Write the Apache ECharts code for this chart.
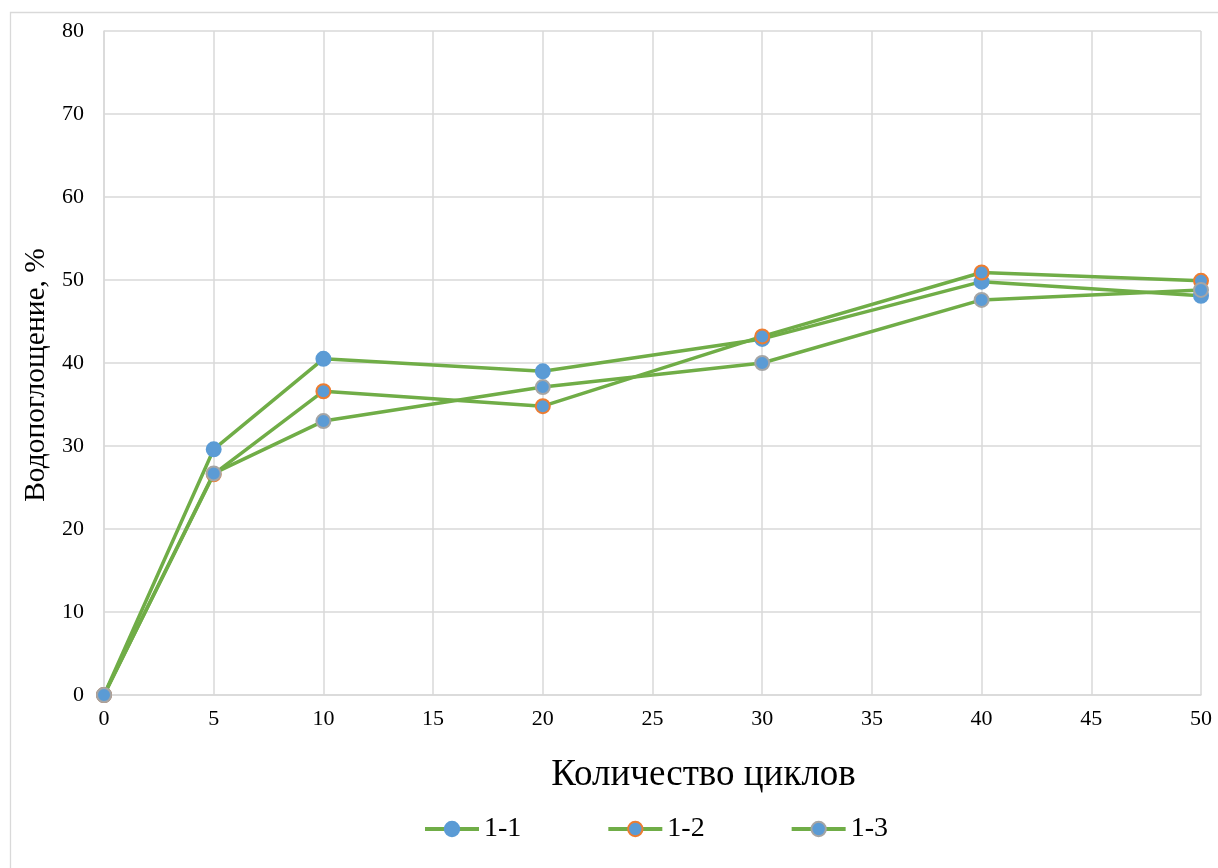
<!DOCTYPE html>
<html>
<head>
<meta charset="utf-8">
<script src="https://cdn.jsdelivr.net/npm/echarts@6/dist/echarts.min.js"></script>
<style>
  html, body { margin: 0; padding: 0; background: #fff; }
  #chart { width: 1218px; height: 868px; }
</style>
</head>
<body>
<div id="chart"></div>
<script>
// Number of freeze–thaw cycles
const cycles = [0, 5, 10, 20, 30, 40, 50];
// Water absorption, % for each sample
const s11 = [0, 29.6, 40.5, 39.0, 42.9, 49.8, 48.1];
const s12 = [0, 26.6, 36.6, 34.8, 43.2, 50.9, 49.9];
const s13 = [0, 26.7, 33.0, 37.1, 40.0, 47.6, 48.8];
const seriesNames = ['1-1', '1-2', '1-3'];

const FONT = '"Liberation Serif", "Times New Roman", serif';
const LINE = '#70AD47';
const FILL = '#5B9BD5';
const borders = ['#5B9BD5', '#ED7D31', '#A5A5A5'];

function pairs(ys) { return cycles.map((c, i) => [c, ys[i]]); }

const chart = echarts.init(document.getElementById('chart'), null, { renderer: 'canvas' });
chart.setOption({
  backgroundColor: '#fff',
  animation: false,
  graphic: [{
    type: 'rect',
    left: 8, top: 10,
    shape: { width: 1300, height: 1000 },
    style: { fill: 'none', stroke: '#D9D9D9', lineWidth: 1.3 },
    silent: true, z: -1
  }],
  grid: { left: 104, right: 17, top: 31, bottom: 173 },
  legend: {
    left: 418, top: 810,
    itemWidth: 54, itemHeight: 18, itemGap: 85,
    lineStyle: { width: 4 },
    textStyle: { fontFamily: FONT, fontSize: 28, color: '#000' },
    data: seriesNames
  },
  xAxis: {
    type: 'value', min: 0, max: 50, interval: 5,
    name: 'Количество циклов', nameLocation: 'middle', nameGap: 62,
    nameTextStyle: { fontFamily: FONT, fontSize: 37, color: '#000', padding: [0, 0, 0, 102] },
    axisLine: { show: true, lineStyle: { color: '#D9D9D9', width: 1.5 } },
    axisTick: { show: false },
    axisLabel: { fontFamily: FONT, fontSize: 22, color: '#000', margin: 13 },
    splitLine: { show: true, lineStyle: { color: '#D9D9D9', width: 1.5 } }
  },
  yAxis: {
    type: 'value', min: 0, max: 80, interval: 10,
    name: 'Водопоглощение, %', nameLocation: 'middle', nameGap: 52,
    nameTextStyle: { fontFamily: FONT, fontSize: 29.5, color: '#000', padding: [0, 24, 0, 0] },
    axisLine: { show: true, lineStyle: { color: '#D9D9D9', width: 1.5 } },
    axisTick: { show: false },
    axisLabel: { fontFamily: FONT, fontSize: 22, color: '#000', margin: 20 },
    splitLine: { show: true, lineStyle: { color: '#D9D9D9', width: 1.5 } }
  },
  series: [s11, s12, s13].map((ys, i) => ({
    name: seriesNames[i],
    type: 'line',
    data: pairs(ys),
    symbol: 'circle',
    symbolSize: 14,
    showAllSymbol: true,
    lineStyle: { color: LINE, width: 3.5 },
    itemStyle: { color: FILL, borderColor: borders[i], borderWidth: 2 },
    z: 2 + i
  }))
});
</script>
</body>
</html>
